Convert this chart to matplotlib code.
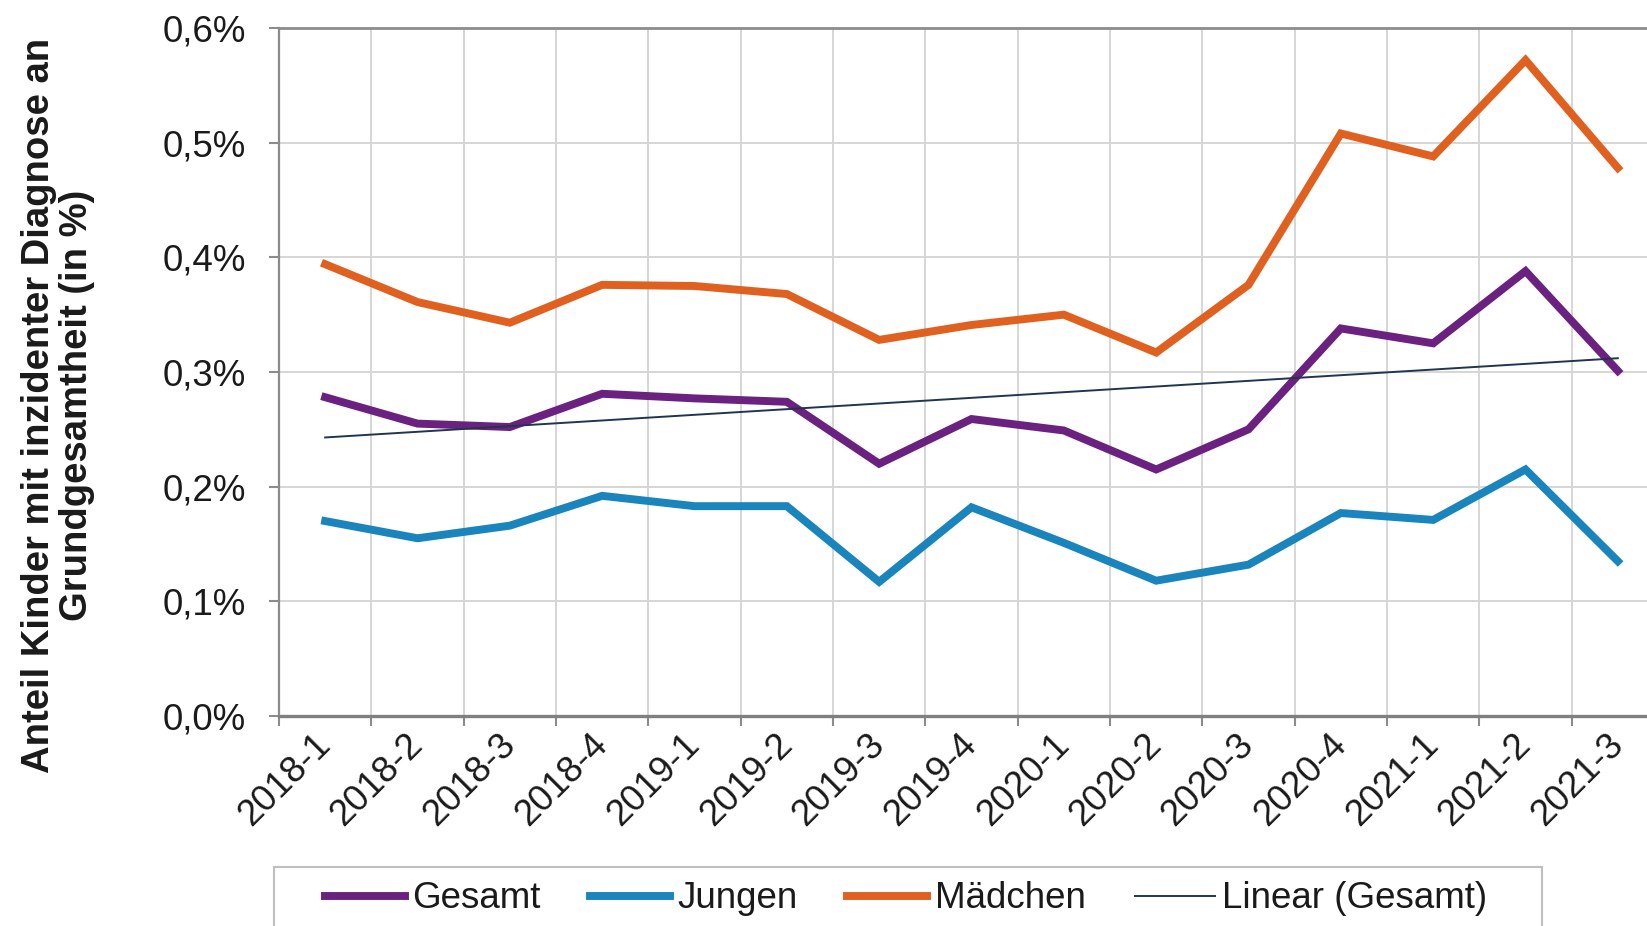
import numpy as np
import matplotlib
matplotlib.use("Agg")
import matplotlib.pyplot as plt
from matplotlib.patches import Rectangle
from matplotlib.ticker import FixedLocator, FuncFormatter

plt.rcParams['font.family'] = ['Liberation Sans', 'DejaVu Sans']

quarters = ["2018-1", "2018-2", "2018-3", "2018-4", "2019-1", "2019-2", "2019-3",
            "2019-4", "2020-1", "2020-2", "2020-3", "2020-4", "2021-1", "2021-2", "2021-3"]
gesamt = [0.278, 0.255, 0.252, 0.281, 0.277, 0.274, 0.220, 0.259, 0.249, 0.215,
          0.250, 0.338, 0.325, 0.388, 0.301]
jungen = [0.170, 0.155, 0.166, 0.192, 0.183, 0.183, 0.117, 0.182, 0.151, 0.118,
          0.132, 0.177, 0.171, 0.215, 0.135]
maedchen = [0.394, 0.361, 0.343, 0.376, 0.375, 0.368, 0.328, 0.341, 0.350, 0.317,
            0.376, 0.508, 0.488, 0.572, 0.478]

c_ges = "#6b2180"
c_jun = "#1a84bd"
c_mae = "#e0611f"
c_lin = "#1f3550"

W, H = 1647, 926
fig = plt.figure(figsize=(W / 100, H / 100), dpi=100)
fig.patch.set_facecolor("white")

# axes extends past the right edge like the original (clipped)
ax = fig.add_axes([279 / W, (H - 716) / H, (1664 - 279) / W, (716 - 28) / H])

x = np.arange(len(quarters))
ax.plot(x, gesamt, color=c_ges, lw=5.7, solid_joinstyle="miter", zorder=4, label="Gesamt")
ax.plot(x, jungen, color=c_jun, lw=5.7, solid_joinstyle="miter", zorder=4, label="Jungen")
ax.plot(x, maedchen, color=c_mae, lw=5.7, solid_joinstyle="miter", zorder=4, label="Mädchen")

# linear trend of Gesamt (as Excel trendline)
k, d = np.polyfit(x, gesamt, 1)
ax.plot(x, k * x + d, color=c_lin, lw=1.4, zorder=5, label="Linear (Gesamt)")

ax.set_xlim(-0.5, len(quarters) - 0.5)
ax.set_ylim(0, 0.6)

# category boundaries -> grid + tick marks, labels on minor ticks
ax.xaxis.set_major_locator(FixedLocator(np.arange(-0.5, len(quarters), 1.0)))
ax.xaxis.set_major_formatter(FuncFormatter(lambda v, p: ""))
ax.xaxis.set_minor_locator(FixedLocator(x))
ax.set_xticklabels(quarters, minor=True)
ax.tick_params(axis="x", which="major", length=7, width=1.5, color="#8c8c8c")
ax.tick_params(axis="x", which="minor", length=0, pad=17, labelsize=26.5,
               labelcolor="#1a1a1a")
for lab in ax.get_xticklabels(minor=True):
    lab.set_rotation(45)
    lab.set_rotation_mode("anchor")
    lab.set_ha("right")
    lab.set_va("center")

ax.set_yticks(np.arange(0, 0.61, 0.1))
ax.yaxis.set_major_formatter(FuncFormatter(lambda v, p: f"{v:.1f}%".replace(".", ",")))
ax.tick_params(axis="y", length=7, width=1.5, color="#8c8c8c", pad=17,
               labelsize=26.5, labelcolor="#1a1a1a")

ax.grid(True, which="major", color="#d6d6d6", lw=1.4)
ax.set_axisbelow(True)

ax.spines["left"].set_color("#8c8c8c")
ax.spines["left"].set_linewidth(1.6)
ax.spines["bottom"].set_color("#808080")
ax.spines["bottom"].set_linewidth(2.4)
ax.spines["top"].set_color("#8c8c8c")
ax.spines["top"].set_linewidth(2.0)
ax.spines["right"].set_visible(False)

fig.text(58 / W, 1 - 405 / H,
         "Anteil Kinder mit inzidenter Diagnose an\nGrundgesamtheit (in %)",
         rotation=90, ha="center", va="center", multialignment="center",
         fontsize=27.5, fontweight="bold", color="#1a1a1a", linespacing=1.05)

# legend box
fig.patches.append(Rectangle((274 / W, 1 - 935 / H), (1542 - 274) / W, (935 - 867) / H,
                             transform=fig.transFigure, facecolor="white",
                             edgecolor="#bfbfbf", lw=1.5))
h, l = ax.get_legend_handles_labels()
fig.legend(h, l, loc="center left", bbox_to_anchor=(325 / W, 1 - 899 / H), ncol=4,
           frameon=False, fontsize=26.5, handlelength=2.17, handletextpad=0.2,
           columnspacing=1.35, borderpad=0, borderaxespad=0, labelcolor="#1a1a1a")

fig.savefig("out.png", dpi=100, facecolor="white")
